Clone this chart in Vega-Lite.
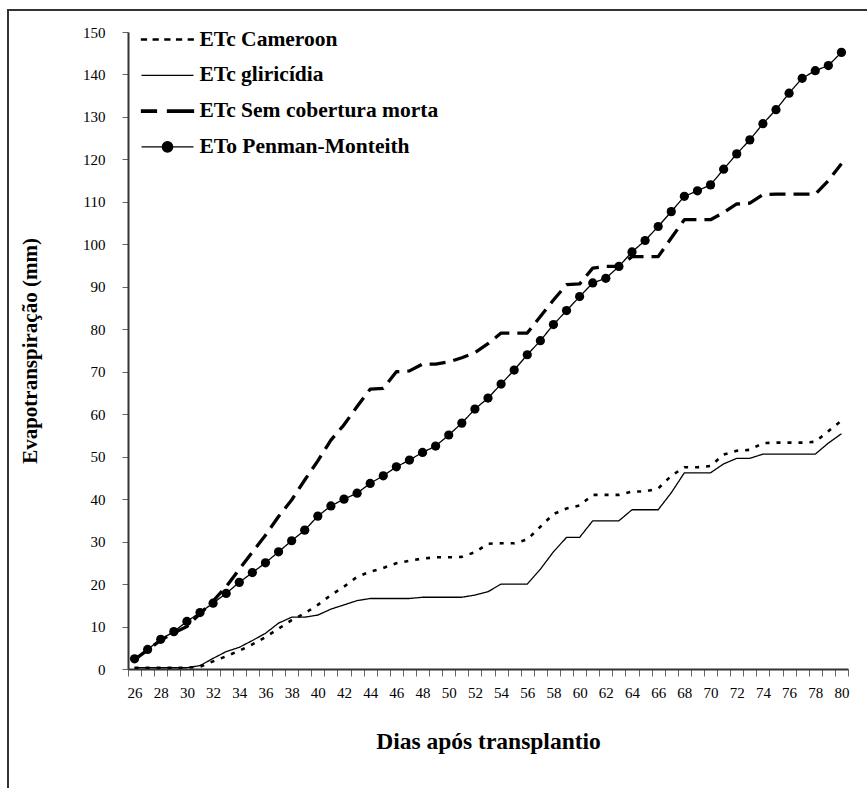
{
  "$schema": "https://vega.github.io/schema/vega-lite/v6.json",
  "autosize": "none",
  "width": 859,
  "height": 778,
  "padding": {"left": 8, "top": 10, "right": 0, "bottom": 0},
  "background": "white",
  "config": {
    "font": "Liberation Serif",
    "view": {"stroke": "#333", "strokeWidth": 2, "strokeDash": [859, 1637, 778]},
    "axis": {"grid": false, "domainColor": "#333", "domainWidth": 2, "tickColor": "#666", "tickWidth": 1, "labelColor": "black", "titleColor": "black", "labelFont": "Liberation Serif", "titleFont": "Liberation Serif", "labelFontSize": 15, "titleFontWeight": "bold"}
  },
  "data": {
    "values": [
      {"d": 26, "ETc Cameroon": 0.3, "ETc gliricídia": 0.3, "ETc Sem cobertura morta": 2.2, "ETo Penman-Monteith": 2.4},
      {"d": 27, "ETc Cameroon": 0.3, "ETc gliricídia": 0.3, "ETc Sem cobertura morta": 4.5, "ETo Penman-Monteith": 4.6},
      {"d": 28, "ETc Cameroon": 0.3, "ETc gliricídia": 0.3, "ETc Sem cobertura morta": 6.8, "ETo Penman-Monteith": 7.0},
      {"d": 29, "ETc Cameroon": 0.3, "ETc gliricídia": 0.3, "ETc Sem cobertura morta": 8.5, "ETo Penman-Monteith": 8.8},
      {"d": 30, "ETc Cameroon": 0.3, "ETc gliricídia": 0.3, "ETc Sem cobertura morta": 10.0, "ETo Penman-Monteith": 11.2},
      {"d": 31, "ETc Cameroon": 0.5, "ETc gliricídia": 0.8, "ETc Sem cobertura morta": 13.0, "ETo Penman-Monteith": 13.3},
      {"d": 32, "ETc Cameroon": 1.8, "ETc gliricídia": 2.5, "ETc Sem cobertura morta": 16.0, "ETo Penman-Monteith": 15.5},
      {"d": 33, "ETc Cameroon": 3.0, "ETc gliricídia": 4.1, "ETc Sem cobertura morta": 19.4, "ETo Penman-Monteith": 17.8},
      {"d": 34, "ETc Cameroon": 4.3, "ETc gliricídia": 5.1, "ETc Sem cobertura morta": 23.5, "ETo Penman-Monteith": 20.4},
      {"d": 35, "ETc Cameroon": 5.8, "ETc gliricídia": 6.7, "ETc Sem cobertura morta": 27.5, "ETo Penman-Monteith": 22.7},
      {"d": 36, "ETc Cameroon": 7.5, "ETc gliricídia": 8.4, "ETc Sem cobertura morta": 31.5, "ETo Penman-Monteith": 25.0},
      {"d": 37, "ETc Cameroon": 9.5, "ETc gliricídia": 10.8, "ETc Sem cobertura morta": 35.9, "ETo Penman-Monteith": 27.6},
      {"d": 38, "ETc Cameroon": 11.5, "ETc gliricídia": 12.2, "ETc Sem cobertura morta": 39.8, "ETo Penman-Monteith": 30.2},
      {"d": 39, "ETc Cameroon": 13.1, "ETc gliricídia": 12.2, "ETc Sem cobertura morta": 44.5, "ETo Penman-Monteith": 32.7},
      {"d": 40, "ETc Cameroon": 15.1, "ETc gliricídia": 12.7, "ETc Sem cobertura morta": 49.0, "ETo Penman-Monteith": 36.0},
      {"d": 41, "ETc Cameroon": 17.4, "ETc gliricídia": 14.1, "ETc Sem cobertura morta": 53.9, "ETo Penman-Monteith": 38.4},
      {"d": 42, "ETc Cameroon": 19.4, "ETc gliricídia": 15.1, "ETc Sem cobertura morta": 57.5, "ETo Penman-Monteith": 40.0},
      {"d": 43, "ETc Cameroon": 21.7, "ETc gliricídia": 16.1, "ETc Sem cobertura morta": 61.8, "ETo Penman-Monteith": 41.4},
      {"d": 44, "ETc Cameroon": 22.9, "ETc gliricídia": 16.6, "ETc Sem cobertura morta": 65.9, "ETo Penman-Monteith": 43.7},
      {"d": 45, "ETc Cameroon": 23.8, "ETc gliricídia": 16.6, "ETc Sem cobertura morta": 66.1, "ETo Penman-Monteith": 45.5},
      {"d": 46, "ETc Cameroon": 24.9, "ETc gliricídia": 16.6, "ETc Sem cobertura morta": 70.0, "ETo Penman-Monteith": 47.6},
      {"d": 47, "ETc Cameroon": 25.5, "ETc gliricídia": 16.6, "ETc Sem cobertura morta": 70.2, "ETo Penman-Monteith": 49.2},
      {"d": 48, "ETc Cameroon": 26.0, "ETc gliricídia": 16.9, "ETc Sem cobertura morta": 71.8, "ETo Penman-Monteith": 51.0},
      {"d": 49, "ETc Cameroon": 26.3, "ETc gliricídia": 16.9, "ETc Sem cobertura morta": 71.8, "ETo Penman-Monteith": 52.5},
      {"d": 50, "ETc Cameroon": 26.3, "ETc gliricídia": 16.9, "ETc Sem cobertura morta": 72.3, "ETo Penman-Monteith": 55.1},
      {"d": 51, "ETc Cameroon": 26.4, "ETc gliricídia": 16.9, "ETc Sem cobertura morta": 73.3, "ETo Penman-Monteith": 57.9},
      {"d": 52, "ETc Cameroon": 27.5, "ETc gliricídia": 17.4, "ETc Sem cobertura morta": 74.5, "ETo Penman-Monteith": 61.2},
      {"d": 53, "ETc Cameroon": 29.5, "ETc gliricídia": 18.2, "ETc Sem cobertura morta": 76.6, "ETo Penman-Monteith": 63.8},
      {"d": 54, "ETc Cameroon": 29.6, "ETc gliricídia": 20.0, "ETc Sem cobertura morta": 79.1, "ETo Penman-Monteith": 67.1},
      {"d": 55, "ETc Cameroon": 29.6, "ETc gliricídia": 20.0, "ETc Sem cobertura morta": 79.1, "ETo Penman-Monteith": 70.4},
      {"d": 56, "ETc Cameroon": 30.5, "ETc gliricídia": 20.0, "ETc Sem cobertura morta": 79.1, "ETo Penman-Monteith": 74.0},
      {"d": 57, "ETc Cameroon": 33.5, "ETc gliricídia": 23.5, "ETc Sem cobertura morta": 83.0, "ETo Penman-Monteith": 77.3},
      {"d": 58, "ETc Cameroon": 36.5, "ETc gliricídia": 27.6, "ETc Sem cobertura morta": 86.9, "ETo Penman-Monteith": 81.1},
      {"d": 59, "ETc Cameroon": 37.8, "ETc gliricídia": 31.0, "ETc Sem cobertura morta": 90.5, "ETo Penman-Monteith": 84.4},
      {"d": 60, "ETc Cameroon": 38.5, "ETc gliricídia": 31.0, "ETc Sem cobertura morta": 90.7, "ETo Penman-Monteith": 87.7},
      {"d": 61, "ETc Cameroon": 41.0, "ETc gliricídia": 34.9, "ETc Sem cobertura morta": 94.4, "ETo Penman-Monteith": 90.9},
      {"d": 62, "ETc Cameroon": 41.0, "ETc gliricídia": 34.9, "ETc Sem cobertura morta": 94.8, "ETo Penman-Monteith": 92.0},
      {"d": 63, "ETc Cameroon": 41.0, "ETc gliricídia": 34.9, "ETc Sem cobertura morta": 94.8, "ETo Penman-Monteith": 94.8},
      {"d": 64, "ETc Cameroon": 41.8, "ETc gliricídia": 37.5, "ETc Sem cobertura morta": 97.1, "ETo Penman-Monteith": 98.2},
      {"d": 65, "ETc Cameroon": 41.8, "ETc gliricídia": 37.5, "ETc Sem cobertura morta": 97.1, "ETo Penman-Monteith": 100.9},
      {"d": 66, "ETc Cameroon": 42.5, "ETc gliricídia": 37.5, "ETc Sem cobertura morta": 97.1, "ETo Penman-Monteith": 104.2},
      {"d": 67, "ETc Cameroon": 45.5, "ETc gliricídia": 41.5, "ETc Sem cobertura morta": 101.5, "ETo Penman-Monteith": 107.7},
      {"d": 68, "ETc Cameroon": 47.5, "ETc gliricídia": 46.2, "ETc Sem cobertura morta": 105.8, "ETo Penman-Monteith": 111.3},
      {"d": 69, "ETc Cameroon": 47.5, "ETc gliricídia": 46.2, "ETc Sem cobertura morta": 105.8, "ETo Penman-Monteith": 112.6},
      {"d": 70, "ETc Cameroon": 47.8, "ETc gliricídia": 46.2, "ETc Sem cobertura morta": 105.8, "ETo Penman-Monteith": 114.0},
      {"d": 71, "ETc Cameroon": 50.5, "ETc gliricídia": 48.3, "ETc Sem cobertura morta": 107.5, "ETo Penman-Monteith": 117.7},
      {"d": 72, "ETc Cameroon": 51.4, "ETc gliricídia": 49.6, "ETc Sem cobertura morta": 109.5, "ETo Penman-Monteith": 121.3},
      {"d": 73, "ETc Cameroon": 51.6, "ETc gliricídia": 49.6, "ETc Sem cobertura morta": 109.7, "ETo Penman-Monteith": 124.6},
      {"d": 74, "ETc Cameroon": 53.2, "ETc gliricídia": 50.6, "ETc Sem cobertura morta": 111.7, "ETo Penman-Monteith": 128.4},
      {"d": 75, "ETc Cameroon": 53.3, "ETc gliricídia": 50.6, "ETc Sem cobertura morta": 111.8, "ETo Penman-Monteith": 131.7},
      {"d": 76, "ETc Cameroon": 53.3, "ETc gliricídia": 50.6, "ETc Sem cobertura morta": 111.8, "ETo Penman-Monteith": 135.6},
      {"d": 77, "ETc Cameroon": 53.3, "ETc gliricídia": 50.6, "ETc Sem cobertura morta": 111.8, "ETo Penman-Monteith": 139.1},
      {"d": 78, "ETc Cameroon": 53.5, "ETc gliricídia": 50.6, "ETc Sem cobertura morta": 111.8, "ETo Penman-Monteith": 140.9},
      {"d": 79, "ETc Cameroon": 56.0, "ETc gliricídia": 53.2, "ETc Sem cobertura morta": 115.0, "ETo Penman-Monteith": 142.1},
      {"d": 80, "ETc Cameroon": 58.5, "ETc gliricídia": 55.4, "ETc Sem cobertura morta": 119.0, "ETo Penman-Monteith": 145.2}
    ]
  },
  "transform": [
    {"fold": ["ETc Cameroon", "ETc gliricídia", "ETc Sem cobertura morta", "ETo Penman-Monteith"], "as": ["k", "v"]}
  ],
  "encoding": {
    "x": {
      "field": "d", "type": "quantitative",
      "scale": {"domain": [25.5, 80.5], "range": [120, 840], "nice": false, "zero": false},
      "axis": {
        "title": "Dias após transplantio",
        "offset": -119,
        "values": [25.5, 26.5, 27.5, 28.5, 29.5, 30.5, 31.5, 32.5, 33.5, 34.5, 35.5, 36.5, 37.5, 38.5, 39.5, 40.5, 41.5, 42.5, 43.5, 44.5, 45.5, 46.5, 47.5, 48.5, 49.5, 50.5, 51.5, 52.5, 53.5, 54.5, 55.5, 56.5, 57.5, 58.5, 59.5, 60.5, 61.5, 62.5, 63.5, 64.5, 65.5, 66.5, 67.5, 68.5, 69.5, 70.5, 71.5, 72.5, 73.5, 74.5, 75.5, 76.5, 77.5, 78.5, 79.5, 80.5],
        "labelExpr": "(datum.value - 0.5) % 2 == 0 ? format(datum.value - 0.5, 'd') : ''",
        "labelOffset": -6.545,
        "labelOverlap": false,
        "labelFlush": false,
        "labelBound": false,
        "tickSize": 7,
        "labelPadding": 9,
        "titleFontSize": 23.5,
        "titleX": 480,
        "titleY": 72,
        "titleBaseline": "middle",
        "titleAlign": "center"
      }
    },
    "y": {
      "field": "v", "type": "quantitative",
      "scale": {"domain": [0, 150], "range": [659, 22], "nice": false, "zero": true},
      "axis": {
        "title": "Evapotranspiração (mm)",
        "offset": -120,
        "values": [0, 10, 20, 30, 40, 50, 60, 70, 80, 90, 100, 110, 120, 130, 140, 150],
        "tickSize": 6,
        "labelPadding": 17,
        "labelOverlap": false,
        "labelFlush": false,
        "titleFontSize": 21,
        "titleX": -98,
        "titleY": 340.5,
        "titleAngle": -90,
        "titleBaseline": "middle",
        "titleAlign": "center"
      }
    }
  },
  "layer": [
    {
      "mark": {"type": "line", "color": "black", "strokeCap": "butt", "strokeJoin": "round"},
      "encoding": {
        "strokeDash": {"field": "k", "type": "nominal", "legend": null,
          "scale": {"type": "ordinal", "domain": ["ETc Cameroon", "ETc gliricídia", "ETc Sem cobertura morta", "ETo Penman-Monteith"], "range": [[4, 7], [1, 0], [16, 8], [1, 0]]}},
        "strokeWidth": {"field": "k", "type": "nominal", "legend": null,
          "scale": {"type": "ordinal", "domain": ["ETc Cameroon", "ETc gliricídia", "ETc Sem cobertura morta", "ETo Penman-Monteith"], "range": [2.6, 1.3, 3.3, 1.3]}}
      }
    },
    {
      "transform": [{"filter": "datum.k == 'ETo Penman-Monteith'"}],
      "mark": {"type": "circle", "color": "black", "size": 85, "opacity": 1}
    },
    {
      "mark": {"type": "point", "filled": false, "fill": "black", "stroke": "black", "strokeWidth": 1.3},
      "encoding": {
        "shape": {"field": "k", "type": "nominal",
          "sort": ["ETc Cameroon", "ETc gliricídia", "ETc Sem cobertura morta", "ETo Penman-Monteith"],
          "scale": {
            "range": [
              "M-2,-0.04H-1.62V0.04H-2ZM-1.1,-0.04H-0.72V0.04H-1.1ZM-0.2,-0.04H0.18V0.04H-0.2ZM0.7,-0.04H1.08V0.04H0.7ZM1.6,-0.04H1.98V0.04H1.6Z",
              "M-2,0H2",
              "M-2,-0.09H-0.85V0.09H-2ZM0,-0.09H2V0.09H0Z",
              "M-2,0H2M0.4,0A0.4,0.4,0,1,1,-0.4,0A0.4,0.4,0,1,1,0.4,0Z"
            ]},
          "legend": {
            "title": null,
            "orient": "none",
            "legendX": 145.5,
            "legendY": 15.5,
            "symbolSize": 676,
            "symbolStrokeWidth": 1.3,
            "symbolOpacity": 1,
            "labelFont": "Liberation Serif",
            "labelFontSize": 21.5,
            "labelFontWeight": "bold",
            "labelColor": "black",
            "labelOffset": 18,
            "rowPadding": 10.8,
            "padding": 0,
            "labelLimit": 0
          }},
        "opacity": {"condition": {"test": "false", "value": 1}, "value": 0}
      }
    }
  ]
}
